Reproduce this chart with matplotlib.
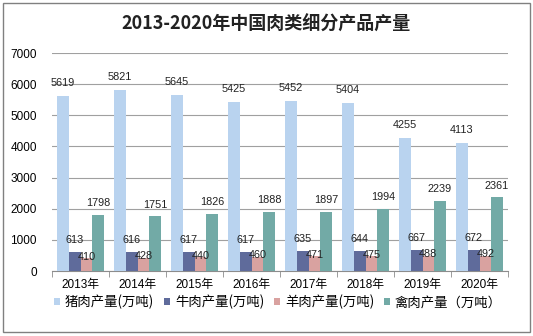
import numpy as np
import matplotlib
matplotlib.use("Agg")
import matplotlib.pyplot as plt
from matplotlib.patches import Rectangle

plt.rcParams['font.family'] = ['Liberation Sans', 'Noto Sans CJK SC', 'DejaVu Sans']

# data
years = ['2013年', '2014年', '2015年', '2016年', '2017年', '2018年', '2019年', '2020年']
pork = [5619, 5821, 5645, 5425, 5452, 5404, 4255, 4113]
beef = [613, 616, 617, 617, 635, 644, 667, 672]
lamb = [410, 428, 440, 460, 471, 475, 488, 492]
poultry = [1798, 1751, 1826, 1888, 1897, 1994, 2239, 2361]

series_names = ['猪肉产量(万吨)', '牛肉产量(万吨)', '羊肉产量(万吨)', '禽肉产量（万吨）']
colors = ['#b9d3ef', '#5f6b9b', '#d9a2a0', '#72aaa6']
label_offsets = [9.5, 8.5, 1.0, 8.5]  # points above bar top

fig = plt.figure(figsize=(5.33, 3.36), dpi=100)
ax = fig.add_axes([52 / 533, 1 - 271 / 336, 456 / 533, 218 / 336])

x = np.arange(len(years))
w = 0.205
all_series = [pork, beef, lamb, poultry]
handles = []
for k, (vals, c, name, off) in enumerate(zip(all_series, colors, series_names, label_offsets)):
    pos = x + (k - 1.5) * w
    b = ax.bar(pos, vals, width=w, color=c, label=name, zorder=3)
    handles.append(b)
    for px, v in zip(pos, vals):
        ax.annotate(str(v), (px, v), xytext=(0, off), textcoords='offset points',
                    ha='center', va='center', fontsize=7.8, color='#222222', zorder=4)

ax.set_xlim(-0.5, len(years) - 0.5)
ax.set_ylim(0, 7000)
ax.set_yticks(np.arange(0, 7001, 1000))
ax.yaxis.grid(True, color='#a0a0a0', linewidth=0.8, zorder=0)
ax.set_axisbelow(True)

ax.set_xticks(x)
ax.set_xticklabels(years, fontsize=8.5)
ax.set_xticks(np.arange(-0.5, len(years)), minor=True)
ax.tick_params(axis='x', which='major', length=0, pad=6)
ax.tick_params(axis='x', which='minor', length=4, color='#8c8c8c', direction='out')
ax.tick_params(axis='y', length=0, pad=11, labelsize=8.5)

for s in ['top', 'right', 'left']:
    ax.spines[s].set_visible(False)
ax.spines['bottom'].set_color('#8c8c8c')
ax.spines['bottom'].set_linewidth(0.8)

fig.text(0.5, 1 - 24 / 336, '2013-2020年中国肉类细分产品产量', ha='center', va='center',
         fontsize=13, fontweight='bold', family=['Noto Sans CJK SC', 'DejaVu Sans'], color='#222222')

fig.legend(handles=handles, labels=series_names, loc='center', ncol=4,
           bbox_to_anchor=(278 / 533, 1 - 302 / 336), frameon=False,
           handlelength=0.45, handleheight=0.45, handletextpad=0.35,
           columnspacing=0.75, prop={'family': ['Noto Sans CJK SC', 'DejaVu Sans'], 'size': 9.6})

fig.patches.append(Rectangle((3 / 533, 4 / 336), 527 / 533, 329 / 336, transform=fig.transFigure,
                             fill=False, edgecolor='#808080', linewidth=1))

fig.savefig('out.png', dpi=100)
